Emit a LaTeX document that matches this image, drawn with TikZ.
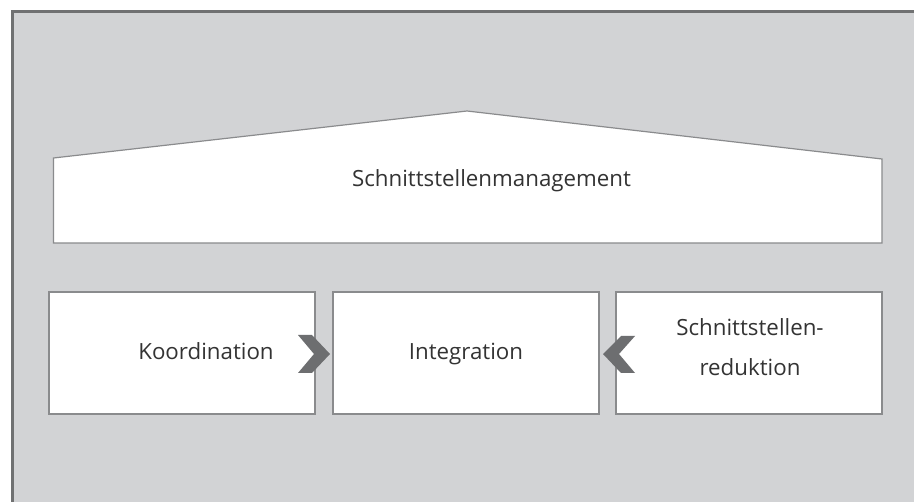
\documentclass[tikz,border=0pt]{standalone}
\usepackage{fontspec}
\setmainfont{Open Sans}
\definecolor{bggray}{HTML}{D2D3D5}
\definecolor{framegray}{HTML}{707172}
\definecolor{linegray}{HTML}{8A8B8D}
\definecolor{chevgray}{HTML}{6D6E70}
\definecolor{txtgray}{HTML}{333333}
\begin{document}
\begin{tikzpicture}[x=1pt,y=-1pt,
  boxstyle/.style={draw=linegray,line width=1.2pt,fill=white},
  chevstyle/.style={fill=chevgray,draw=none},
  lbl/.style={text=txtgray,font=\fontsize{22.3}{40}\selectfont,align=center,inner sep=0pt}]
\useasboundingbox (0,0) rectangle (914,502);
\fill[bggray] (12,11) rectangle (914,502);
\draw[framegray,line width=3pt] (12.5,502) -- (12.5,11.5) -- (914,11.5);
% house
\draw[boxstyle,line join=miter] (53.5,158) -- (467,111) -- (882,159) -- (882,243) -- (53.5,243) -- cycle;
\node[lbl,anchor=base] (mgmt) at (491.5,187) {Schnittstellenmanagement};
% boxes
\draw[boxstyle] (49,292) rectangle (315,414);
\draw[boxstyle] (333,292) rectangle (599,414);
\draw[boxstyle] (616,292) rectangle (882,414);
\node[lbl,anchor=base] (koord) at (206,360) {Koordination};
\node[lbl,anchor=base] (integ) at (466,360) {Integration};
\node[lbl] (red) at (750,347) {Schnittstellen-\\reduktion};
% chevrons
\fill[chevstyle] (298,335) -- (312,335) -- (330,354) -- (312,373) -- (298,373) -- (314,354) -- cycle;
\fill[chevstyle] (635,336) -- (621,336) -- (603,354) -- (621,373) -- (635,373) -- (619,354) -- cycle;
\end{tikzpicture}
\end{document}
